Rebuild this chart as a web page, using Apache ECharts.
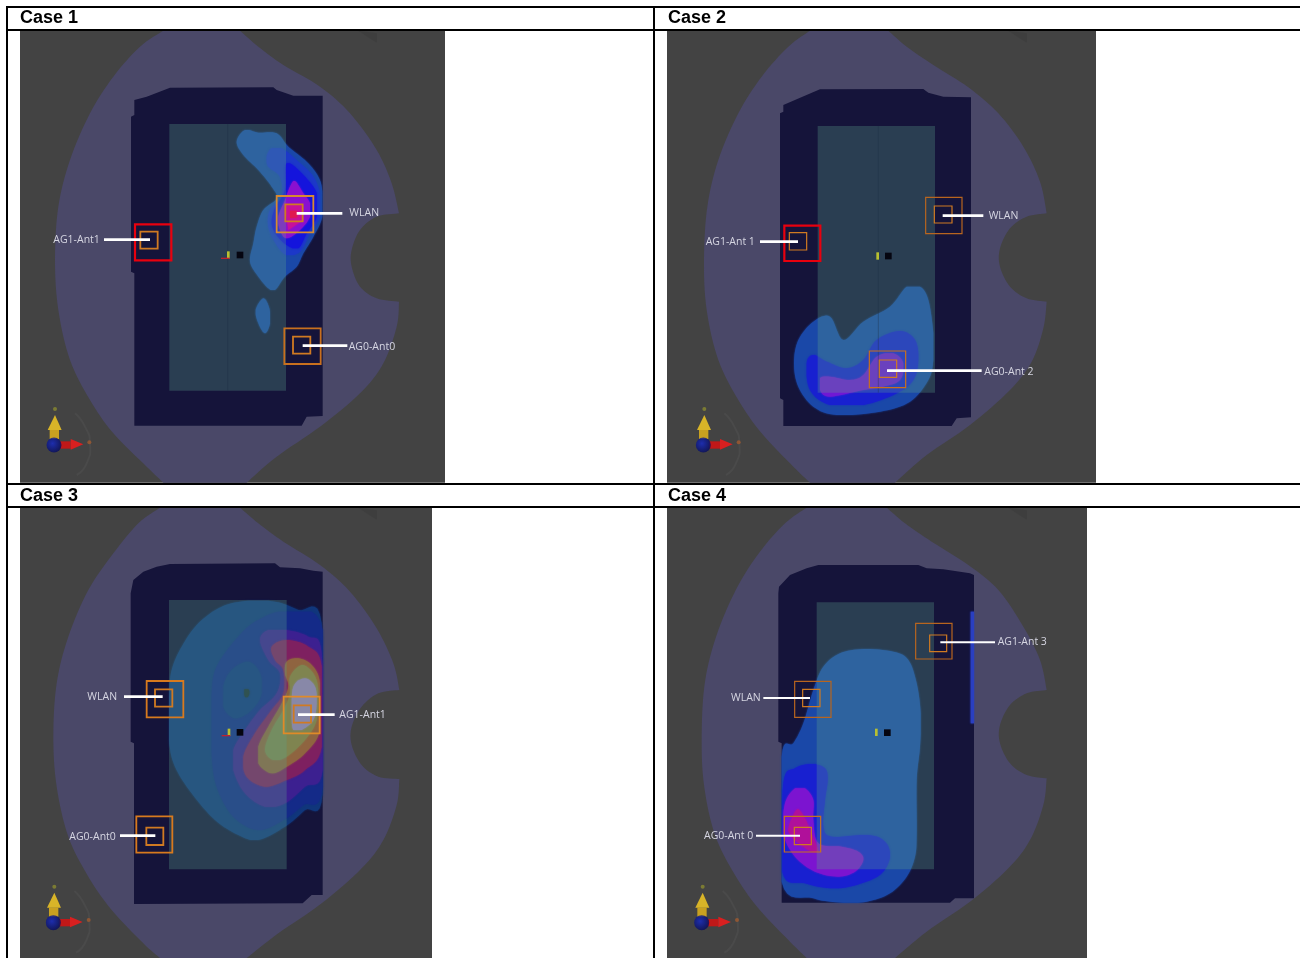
<!DOCTYPE html>
<html><head><meta charset="utf-8">
<style>html,body{margin:0;padding:0;background:#fff}#c{width:1300px;height:958px}</style>
<script src="https://cdn.jsdelivr.net/npm/echarts@6/dist/echarts.min.js"></script>
</head><body><div id="c"></div>
<script>
const caseTitles = ['Case 1','Case 2','Case 3','Case 4'];

// ---- Case 1 ----
const case1Image = [60,92,1335,1448];
const case1Zone = [[490,92],[720,92],[775,140],[850,195],[960,260],[1050,340],[1130,450],[1175,550],[1197,640],[1130,650],[1080,690],[1055,750],[1055,800],[1080,860],[1130,895],[1197,905],[1190,980],[1150,1090],[1080,1180],[960,1280],[830,1370],[740,1448],[490,1448],[440,1400],[340,1300],[270,1200],[210,1080],[175,930],[165,780],[175,620],[210,480],[270,340],[340,230],[420,140]];
const case1Frame = [[403,300],[440,290],[510,263],[820,262],[830,270],[880,287],[968,287],[968,1248],[920,1250],[905,1277],[403,1277],[403,820],[393,815],[393,350],[403,345]];
const case1Panel = [508,372,858,1172];
const case1Seam = [[683,372],[683,1172]];
const case1Contours = [
 [[710,425],[735,390],[775,398],[830,400],[865,440],[920,485],[955,530],[967,575],[967,650],[940,710],[910,760],[890,800],[855,830],[825,870],[805,865],[775,830],[750,785],[760,730],[770,680],[790,630],[830,595],[815,560],[775,510],[730,465]],
 [[767,930],[790,895],[808,925],[810,970],[795,1000],[775,970]],
 [[800,470],[815,445],[845,445],[895,485],[940,530],[960,585],[960,650],[930,700],[900,755],[860,765],[830,735],[805,680],[810,630],[845,590],[840,530],[805,500]],
 [[860,490],[905,520],[950,580],[950,650],[920,700],[895,745],[860,735],[830,705],[815,670],[825,625],[855,570]],
 [[870,560],[885,543],[910,580],[930,610],[930,650],[900,690],[860,715],[840,690],[835,650],[855,600]],
 [[855,615],[905,615],[910,660],[865,690]],
 [[870,632],[890,632],[892,652],[870,654]]
];
const case1ContourColors = ['#1a48a8','#1a48a8','#1c38c8','#1414dc','#8a10d0','#c8109a','#e01850'];
const case1Outer = [[830,588,940,697],[405,673,514,781],[853,985,962,1092]];
const case1OuterColors = ['#d88a30','#e8000e','#c8701e'];
const case1Inner = [[856,613,908,664],[421,695,473,746],[879,1010,931,1061]];
const case1Leaders = [[890,640,1027,640],[312,719,450,719],[908,1037,1042,1037]];
const case1LabelText = ['WLAN','AG1-Ant1','AG0-Ant0'];
const case1LabelPos = [[1048,640],[160,720],[1046,1041]];
const case1Triad = [162,1335];
const case1Marks = [[685,765],[720,765]];

// ---- Case 2 ----
const case2Image = [51,92,1338,1448];
const case2Zone = [[480,92],[715,92],[770,140],[850,195],[955,262],[1045,340],[1120,440],[1170,545],[1190,640],[1130,650],[1080,685],[1050,745],[1050,800],[1080,860],[1130,895],[1190,905],[1180,985],[1145,1085],[1080,1170],[960,1275],[830,1365],[735,1448],[480,1448],[430,1400],[335,1300],[265,1200],[205,1080],[170,930],[162,780],[172,620],[205,480],[265,340],[335,230],[415,140]];
const case2Frame = [[400,315],[440,298],[510,268],[820,267],[835,278],[880,290],[963,292],[963,1252],[920,1255],[905,1278],[400,1278],[400,1200],[390,1195],[390,340],[400,335]];
const case2Panel = [503,378,855,1178];
const case2Seam = [[685,378],[685,1178]];
const case2Contours = [
 [[432,1090],[445,1020],[490,965],[540,950],[580,1020],[640,965],[720,920],[770,860],[810,860],[835,900],[850,1000],[850,1080],[835,1140],[780,1205],[690,1235],[560,1245],[490,1220],[445,1160]],
 [[470,1090],[490,1065],[530,1085],[590,1105],[640,1080],[680,1020],[750,993],[795,1020],[805,1080],[790,1140],[740,1180],[640,1215],[540,1215],[480,1170]],
 [[510,1135],[540,1130],[600,1140],[640,1125],[680,1070],[730,1060],[760,1090],[750,1140],[700,1160],[640,1170],[540,1190],[510,1170]]
];
const case2ContourColors = ['#1a48a8','#1820d0','#7018d4'];
const case2Outer = [[827,592,936,701],[403,677,511,783],[658,1053,767,1163]];
const case2OuterColors = ['#b8651f','#e8000e','#c8701e'];
const case2Inner = [[853,618,906,669],[418,698,470,750],[688,1080,740,1132]];
const case2Leaders = [[878,647,1000,647],[330,725,444,725],[711,1112,995,1112]];
const case2LabelText = ['WLAN','AG1-Ant 1','AG0-Ant 2'];
const case2LabelPos = [[1016,647],[167,725],[1003,1115]];
const case2Triad = [160,1335];
const case2Marks = [[683,768],[715,768]];

// ---- Case 3 ----
const case3Image = [60,83,1296,1434];
const case3Zone = [[480,83],[720,83],[775,130],[850,185],[960,255],[1050,335],[1130,445],[1180,550],[1198,630],[1135,640],[1085,680],[1055,740],[1055,795],[1085,855],[1135,890],[1198,897],[1190,975],[1150,1080],[1085,1165],[965,1270],[835,1360],[740,1434],[480,1434],[430,1390],[335,1290],[265,1190],[205,1070],[170,920],[160,770],[170,610],[205,470],[265,330],[340,220],[415,130]];
const case3Frame = [[400,300],[430,275],[470,260],[510,252],[825,250],[840,262],[900,265],[940,272],[968,275],[968,1245],[935,1245],[908,1270],[402,1272],[402,790],[392,785],[392,340]];
const case3Panel = [507,360,860,1168];
const case3Seam = [];
const case3Contours = [
 [[515,570],[545,500],[595,430],[665,380],[745,362],[825,365],[895,390],[965,430],[968,940],[915,990],[855,1040],[775,1080],[715,1065],[645,1020],[575,940],[525,860],[507,780],[507,650]],
 [[635,640],[650,560],[715,470],[775,420],[860,395],[968,450],[968,920],[910,975],[850,1020],[775,1050],[700,1010],[650,920],[635,820],[635,720]],
 [[670,620],[695,570],[745,545],[780,580],[785,640],[755,690],[705,715],[670,680]],
 [[780,480],[805,450],[860,450],[925,470],[965,520],[968,870],[915,920],[855,970],[795,980],[735,940],[700,870],[700,810],[735,750],[780,690],[830,640],[840,580],[805,540]],
 [[815,500],[860,480],[925,500],[965,560],[965,800],[915,870],[860,900],[795,920],[740,890],[730,830],[765,760],[815,690],[850,640],[850,570],[825,540]],
 [[860,545],[895,535],[935,555],[960,610],[960,750],[915,820],[860,860],[815,880],[775,850],[775,800],[805,740],[845,670],[865,620],[855,580]],
 [[870,590],[905,555],[940,580],[955,630],[950,720],[915,780],[860,830],[820,840],[795,810],[815,750],[850,690],[870,640]],
 [[880,620],[915,595],[945,620],[950,670],[940,720],[905,750],[880,750],[875,700]],
 [[733,628],[745,628],[748,640],[742,652],[734,648]]
];
const case3ContourColors = ['#10367b','#142a88','#113580','#3c2090','#7e2060','#8f6440','#7f8450','#8888a8','#1e3038'];
const case3Outer = [[440,603,550,712],[851,650,959,760],[409,1009,517,1118]];
const case3OuterColors = ['#d87a1e','#e08a28','#d87a1e'];
const case3Inner = [[465,628,517,680],[881,676,933,728],[439,1043,490,1095]];
const case3Leaders = [[372,650,488,650],[894,704,1004,704],[360,1067,466,1067]];
const case3LabelText = ['WLAN','AG1-Ant1','AG0-Ant0'];
const case3LabelPos = [[262,650],[1018,704],[208,1071]];
const case3Triad = [160,1328];
const case3Marks = [[687,757],[720,757]];

// ---- Case 4 ----
const case4Image = [51,83,1311,1434];
const case4Zone = [[470,83],[710,83],[765,130],[845,185],[955,255],[1045,330],[1120,440],[1170,540],[1190,630],[1130,640],[1080,675],[1050,735],[1050,790],[1080,850],[1130,885],[1190,895],[1180,975],[1140,1080],[1075,1165],[960,1265],[830,1355],[735,1434],[470,1434],[420,1385],[325,1285],[255,1185],[195,1065],[162,915],[155,765],[165,605],[200,465],[260,325],[330,215],[405,130]];
const case4Frame = [[387,320],[420,285],[470,265],[505,255],[805,255],[830,265],[880,268],[960,280],[972,285],[972,1255],[915,1255],[900,1268],[395,1268],[395,790],[385,785],[385,340]];
const case4Panel = [500,367,852,1168];
const case4Seam = [];
const case4Contours = [
 [[395,830],[430,790],[460,730],[490,630],[520,560],[570,520],[640,507],[730,515],[775,540],[800,610],[812,700],[810,800],[800,900],[800,1060],[795,1130],[770,1190],[720,1240],[650,1265],[580,1268],[490,1255],[395,1205]],
 [[400,910],[435,865],[485,852],[525,865],[533,900],[525,960],[520,1040],[545,1070],[655,1065],[705,1085],[720,1130],[695,1180],[635,1210],[555,1225],[465,1210],[397,1175]],
 [[405,970],[435,925],[465,925],[490,960],[490,1020],[505,1090],[575,1100],[625,1115],[640,1140],[615,1175],[565,1190],[495,1175],[435,1130],[400,1060]],
 [[430,1005],[445,988],[465,1015],[480,1050],[505,1115],[475,1110],[435,1080],[415,1050]],
 [[962,395],[972,395],[972,730],[962,730]]
];
const case4ContourColors = ['#1a48a8','#1820d0','#7c14d0','#b0109a','#2a3fc0'];
const case4Outer = [[797,430,906,537],[434,604,543,712],[403,1009,512,1116]];
const case4OuterColors = ['#b8651f','#b8651f','#c8701e'];
const case4Inner = [[839,465,890,515],[458,628,510,680],[433,1042,484,1094]];
const case4Leaders = [[871,487,1035,487],[340,654,480,654],[318,1067,450,1067]];
const case4LabelText = ['AG1-Ant 3','WLAN','AG0-Ant 0'];
const case4LabelPos = [[1043,487],[243,654],[162,1067]];
const case4Triad = [155,1328];
const case4Marks = [[679,757],[712,758]];

// Sharp corners of the zone outline (same vertex numbering in every case)
const zoneCorners = [0,1,8,15,21,22];

// Axis triad pieces, relative to the blue sphere
const triadYellowCone = [[3,-90],[-19,-45],[23,-45]];
const triadYellowShaft = [[-13,-45],[15,-45],[15,-18],[-13,-18]];
const triadRedShaft = [[18,-11],[50,-11],[50,11],[18,11]];
const triadRedCone = [[50,-18],[88,-2],[50,14]];
const triadArc = [[63,-95],[93,-55],[108,-5],[98,55],[68,90]];
const cornerMark = [[1075,0],[1130,8],[1130,36]];

const cases = [
 {img:case1Image,zone:case1Zone,frame:case1Frame,panel:case1Panel,seam:case1Seam,cont:case1Contours,contC:case1ContourColors,outer:case1Outer,outerC:case1OuterColors,inner:case1Inner,lead:case1Leaders,text:case1LabelText,pos:case1LabelPos,triad:case1Triad,marks:case1Marks,bw:1.8,red:true,yMax:1470,left:0,top:0,h:490},
 {img:case2Image,zone:case2Zone,frame:case2Frame,panel:case2Panel,seam:case2Seam,cont:case2Contours,contC:case2ContourColors,outer:case2Outer,outerC:case2OuterColors,inner:case2Inner,lead:case2Leaders,text:case2LabelText,pos:case2LabelPos,triad:case2Triad,marks:case2Marks,bw:1.2,red:true,yMax:1470,left:650,top:0,h:490},
 {img:case3Image,zone:case3Zone,frame:case3Frame,panel:case3Panel,seam:case3Seam,cont:case3Contours,contC:case3ContourColors,outer:case3Outer,outerC:case3OuterColors,inner:case3Inner,lead:case3Leaders,text:case3LabelText,pos:case3LabelPos,triad:case3Triad,marks:case3Marks,bw:1.8,yMax:1434,left:0,top:480,h:478},
 {img:case4Image,zone:case4Zone,frame:case4Frame,panel:case4Panel,seam:case4Seam,cont:case4Contours,contC:case4ContourColors,outer:case4Outer,outerC:case4OuterColors,inner:case4Inner,lead:case4Leaders,text:case4LabelText,pos:case4LabelPos,triad:case4Triad,marks:case4Marks,bw:1.2,yMax:1434,left:650,top:480,h:478}
];

// closed Catmull-Rom path through screen points, kept inside their bounding box
function curve(P, corners) {
  const n=P.length, out=[], isC=i=>corners&&corners.indexOf(i)>=0;
  const xs=P.map(q=>q[0]),ys=P.map(q=>q[1]);
  const x0=Math.min(...xs),x1=Math.max(...xs),y0=Math.min(...ys),y1=Math.max(...ys);
  for(let i=0;i<n;i++){
    const a=(i+1)%n,b=(i+2)%n,z=(i-1+n)%n;
    const p1=P[i],p2=P[a],p0=isC(i)?p1:P[z],p3=isC(a)?p2:P[b];
    for(let k=0;k<8;k++){
      const t=k/8,t2=t*t,t3=t2*t;
      const f=(m)=>0.5*(2*p1[m]+(p2[m]-p0[m])*t+(2*p0[m]-5*p1[m]+4*p2[m]-p3[m])*t2+(3*p1[m]-p0[m]-3*p2[m]+p3[m])*t3);
      out.push([Math.min(x1,Math.max(x0,f(0))),Math.min(y1,Math.max(y0,f(1)))]);
    }
  }
  return out;
}
const series = [], grids = [], xAxes = [], yAxes = [];
function poly(g, pts, style, smooth, corners) {
  series.push({type:'custom',xAxisIndex:g,yAxisIndex:g,silent:true,animation:false,
    data:pts,encode:{x:0,y:1},
    renderItem:(p,api)=>{ if(p.dataIndex>0) return null;
      const P=pts.map(q=>api.coord(q));
      return {type:'polygon',shape:{points:smooth?curve(P,corners):P},style:style}; }});
}
function polyline(g, pts, style, smooth) {
  series.push({type:'custom',xAxisIndex:g,yAxisIndex:g,silent:true,animation:false,data:pts,encode:{x:0,y:1},
    renderItem:(p,api)=>{ if(p.dataIndex>0) return null;
      return {type:'polyline',shape:{points:pts.map(q=>api.coord(q)),smooth:smooth||0},style:Object.assign({fill:null},style)}; }});
}
function rects(g, list, styleFn) {
  series.push({type:'custom',xAxisIndex:g,yAxisIndex:g,silent:true,animation:false,data:list,encode:{x:[0,2],y:[1,3]},
    renderItem:(p,api)=>{ const a=api.coord([api.value(0),api.value(1)]),b=api.coord([api.value(2),api.value(3)]);
      return {type:'rect',shape:{x:a[0],y:a[1],width:b[0]-a[0],height:b[1]-a[1]},style:styleFn(p.dataIndex)}; }});
}
function segs(g, list, style) {
  series.push({type:'custom',xAxisIndex:g,yAxisIndex:g,silent:true,animation:false,data:list,encode:{x:[0,2],y:[1,3]},
    renderItem:(p,api)=>{ const a=api.coord([api.value(0),api.value(1)]),b=api.coord([api.value(2),api.value(3)]);
      return {type:'line',shape:{x1:a[0],y1:a[1],x2:b[0],y2:b[1]},style:style}; }});
}
const at=(o,pts)=>pts.map(q=>[o[0]+q[0],o[1]+q[1]]);

cases.forEach((c,g)=>{
  grids.push({left:c.left,top:c.top,width:460,height:c.h,show:false,containLabel:false});
  xAxes.push({type:'value',gridIndex:g,min:0,max:1380,show:false});
  yAxes.push({type:'value',gridIndex:g,min:0,max:c.yMax,inverse:true,show:false});
  rects(g,[c.img],()=>({fill:'#434343'}));
  poly(g,at([0,c.img[1]],cornerMark),{fill:'#3e3e3e'},false);
  poly(g,c.zone,{fill:'#4a4868'},true,zoneCorners);
  poly(g,c.frame,{fill:'#15143a'},false);
  polyline(g,at(c.triad,triadArc),{stroke:'#4a4a4a',lineWidth:2},0.6);
  c.cont.forEach((pts,i)=>poly(g,pts,{fill:c.contC[i],shadowBlur:2,shadowColor:c.contC[i]},pts.length>4));
  rects(g,[c.panel],()=>({fill:'rgba(94,163,138,0.3)'}));
  if(c.seam.length) polyline(g,c.seam,{stroke:'rgba(30,45,70,0.35)',lineWidth:1});
  // centre markers
  const m=c.marks;
  rects(g,[[m[0][0]-4,m[0][1]-11,m[0][0]+4,m[0][1]+11]],()=>({fill:'#b8c030'}));
  rects(g,[[m[1][0]-10,m[1][1]-10,m[1][0]+10,m[1][1]+10]],()=>({fill:'#050510'}));
  if(g===0||g===2) segs(g,[[m[0][0]-22,m[0][1]+10,m[0][0]+4,m[0][1]+10]],{stroke:'#c02030',lineWidth:1.3});
  // antenna boxes
  rects(g,c.outer,i=>({fill:null,stroke:c.outerC[i],lineWidth:(c.red&&i===1)?2.2:c.bw}));
  rects(g,c.inner,()=>({fill:null,stroke:'#d07a22',lineWidth:c.bw}));
  segs(g,c.lead,{stroke:'#ffffff',lineWidth:g===3?2:2.6});
  // labels
  series.push({type:'custom',xAxisIndex:g,yAxisIndex:g,silent:true,animation:false,data:c.pos,encode:{x:0,y:1},
    renderItem:(p,api)=>{const a=api.coord([api.value(0),api.value(1)]);
      return {type:'text',style:{x:a[0],y:a[1],text:c.text[p.dataIndex],fill:'#d6d6e2',font:'10.5px "Open Sans"',textAlign:'left',textVerticalAlign:'middle'}};}});
  // triad
  poly(g,at(c.triad,triadYellowShaft),{fill:'#c8a020'},false);
  poly(g,at(c.triad,triadYellowCone),{fill:'#d8b428'},false);
  poly(g,at(c.triad,triadRedShaft),{fill:'#c01818'},false);
  poly(g,at(c.triad,triadRedCone),{fill:'#d82020'},false);
  series.push({type:'scatter',xAxisIndex:g,yAxisIndex:g,silent:true,animation:false,data:[c.triad],symbolSize:15,
    itemStyle:{color:{type:'radial',x:0.4,y:0.4,r:0.7,colorStops:[{offset:0,color:'#1428c8'},{offset:1,color:'#040850'}]}}});
  series.push({type:'scatter',xAxisIndex:g,yAxisIndex:g,silent:true,animation:false,
    data:at(c.triad,[[3,-108],[106,-8]]),symbolSize:4,itemStyle:{color:(p)=>p.dataIndex?'#a05a30':'#8a8a30'}});
});

const rules=[[6,6,1294,2],[6,29,1294,2],[6,483,1294,2],[6,506,1294,2],[6,6,2,952],[653,6,2,952]];
const chart=echarts.init(document.getElementById('c'),null,{renderer:'canvas',width:1300,height:958});
chart.setOption({
  animation:false,backgroundColor:'#ffffff',
  title:[[20,9],[668,9],[20,487],[668,487]].map((p,i)=>({text:caseTitles[i],left:p[0],top:p[1],padding:0,
    textStyle:{fontFamily:'"Liberation Sans"',fontWeight:'bold',fontSize:18,color:'#000'}})),
  grid:grids,xAxis:xAxes,yAxis:yAxes,series:series,
  graphic:rules.map(r=>({type:'rect',silent:true,z:100,shape:{x:r[0],y:r[1],width:r[2],height:r[3]},style:{fill:'#000'}}))
});
</script></body></html>
